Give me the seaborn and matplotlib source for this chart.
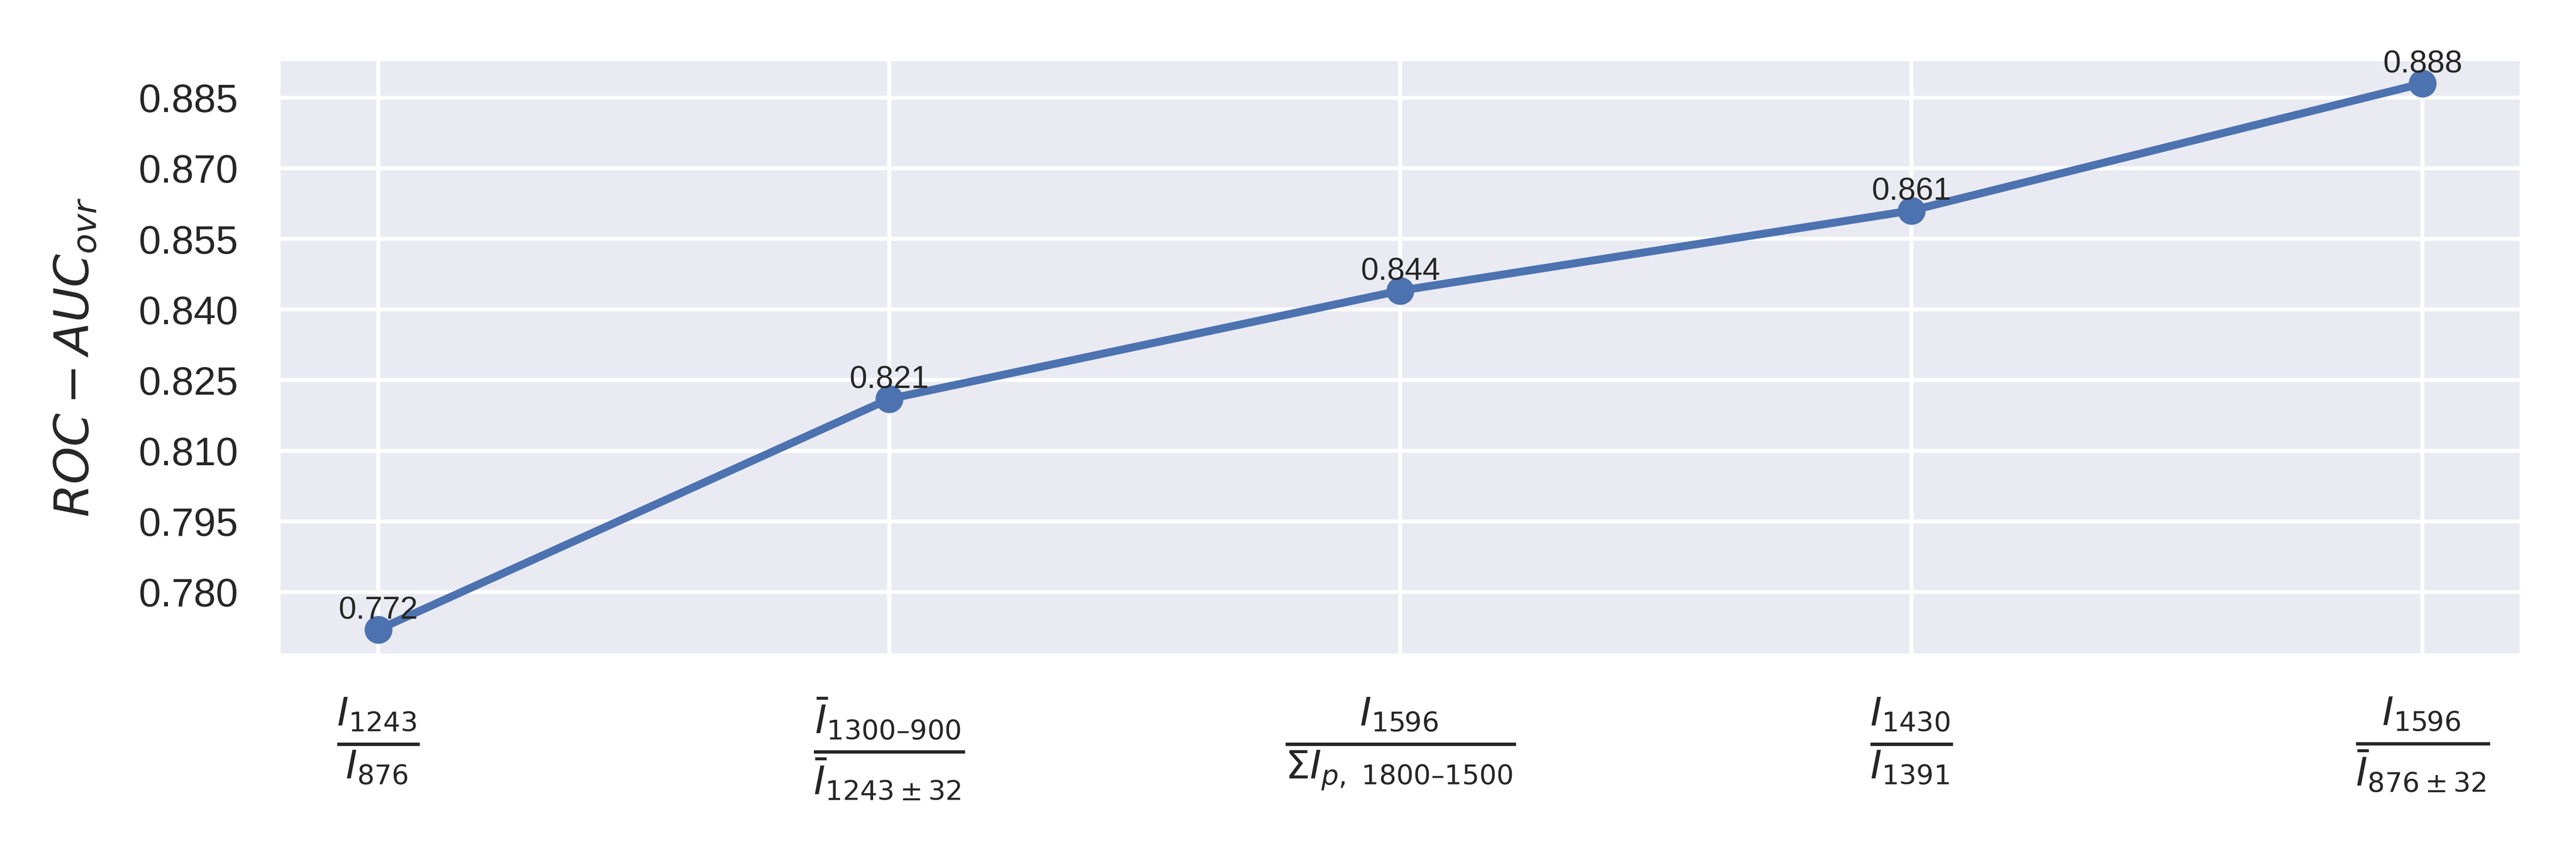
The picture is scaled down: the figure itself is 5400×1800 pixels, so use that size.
"""Line chart of ROC-AUC (one-vs-rest) for the band ratio features."""
import matplotlib
matplotlib.use("Agg")
import matplotlib.pyplot as plt
import seaborn as sns
import pandas as pd

# band ratio features (x axis, in order)
feature_labels = [
    r"$\frac{I_{1243}}{I_{876}}$",
    r"$\frac{\bar{I}_{1300–900}}{\bar{I}_{1243\pm32}}$",
    r"$\frac{I_{1596}}{\Sigma I_{p,\ 1800–1500}}$",
    r"$\frac{I_{1430}}{I_{1391}}$",
    r"$\frac{I_{1596}}{\bar{I}_{876\pm32}}$",
]
# ROC-AUC (ovr) per feature
auc_values = [0.772, 0.821, 0.844, 0.861, 0.888]
# y axis ticks
y_ticks = [0.780, 0.795, 0.810, 0.825, 0.840, 0.855, 0.870, 0.885]

sns.set_theme(style="darkgrid")
plt.rcParams["font.family"] = ["Liberation Sans", "DejaVu Sans"]

df = pd.DataFrame({"pos": range(len(auc_values)), "auc": auc_values})

fig, ax = plt.subplots(figsize=(9, 3))
fig.subplots_adjust(left=0.108, right=0.979, top=0.9317, bottom=0.2356)

sns.lineplot(data=df, x="pos", y="auc", ax=ax, color="#4C72B0",
             linewidth=2, marker="o", markersize=7, markeredgewidth=0)

# value labels just above each point
for x, y in zip(df["pos"], df["auc"]):
    ax.annotate(f"{y:.3f}", (x, y), xytext=(0, 1), textcoords="offset points",
                ha="center", va="bottom", fontsize=8, color="#262626")

ax.set_xlim(-0.1955, 4.1944)
ax.set_ylim(0.76644, 0.89327)
ax.set_xticks(df["pos"])
ax.set_xticklabels(feature_labels, fontsize=14)
ax.tick_params(axis="x", pad=4.1)
ax.set_yticks(y_ticks)
ax.set_yticklabels([f"{t:.3f}" for t in y_ticks], fontsize=10)
ax.tick_params(axis="y", pad=4.0)
ax.set_xlabel("")
ax.set_ylabel(r"$ROC-AUC_{ovr}$", fontsize=12, labelpad=10)

fig.savefig("out.png", dpi=600)
